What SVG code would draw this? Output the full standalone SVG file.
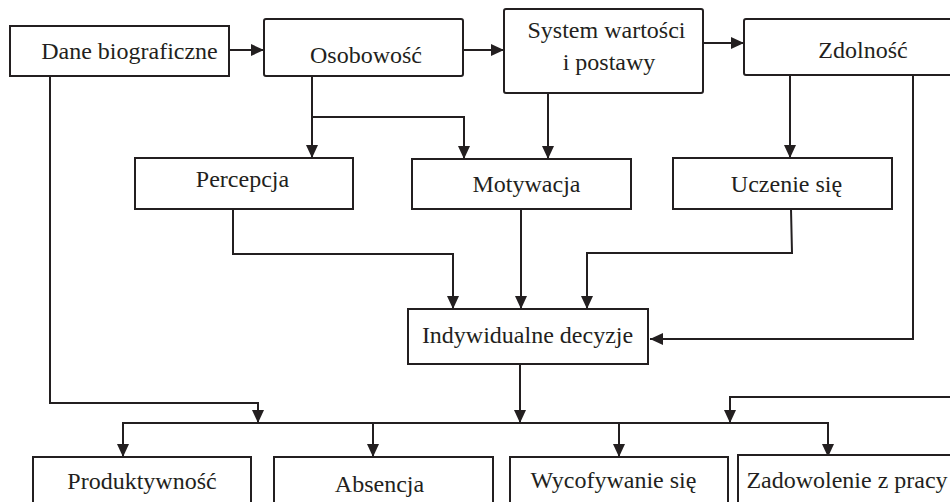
<svg xmlns="http://www.w3.org/2000/svg" width="950" height="502" viewBox="0 0 950 502">
<style>
.box{fill:#fff;stroke:#231f20;stroke-width:2}
.t{font-family:"Liberation Serif","Times New Roman",serif;font-size:24px;fill:#231f20;text-anchor:middle}
.c{fill:none;stroke:#231f20;stroke-width:2;marker-end:url(#ah)}
.l{fill:none;stroke:#231f20;stroke-width:2}
</style>
<defs>
<marker id="ah" viewBox="0 0 13 12" refX="13" refY="6" markerWidth="13" markerHeight="12" markerUnits="userSpaceOnUse" orient="auto">
<path d="M0,0 L13,6 L0,12 z" fill="#231f20"/>
</marker>
</defs>
<rect width="950" height="502" fill="#fff"/>
<g id="connectors">
<path class="c" d="M229,50 H264"/>
<path class="c" d="M463,50 H504"/>
<path class="c" d="M703,43 H744"/>
<path class="c" d="M312,76 V158"/>
<path class="c" d="M312,117 H464 V159"/>
<path class="c" d="M548,93 V159"/>
<path class="c" d="M790,75 V158"/>
<path class="c" d="M913,75 V339 H650"/>
<path class="c" d="M233,209 V254 H453 V309"/>
<path class="c" d="M521,209 V309"/>
<path class="c" d="M791,209 L792,253 H587 V309"/>
<path class="c" d="M520,364 V423"/>
<path class="c" d="M50,76 V403 H258 V423"/>
<path class="c" d="M373,423 H123 V457"/>
<path class="c" d="M373,423 H828 V457"/>
<path class="c" d="M373,423 V457"/>
<path class="c" d="M619,423 V457"/>
<path class="c" d="M952,397 H730 V423"/>
</g>
<g id="dane"><rect class="box" x="10" y="26" width="219" height="50"/><text class="t" x="129.5" y="59">Dane biograficzne</text></g>
<g id="osobowosc"><rect class="box" x="264" y="19" width="199" height="57" rx="2"/><text class="t" x="366" y="63">Osobowość</text></g>
<g id="system"><rect class="box" x="504" y="9" width="199" height="84" rx="2"/><text class="t" x="606.5" y="38">System wartości</text><text class="t" x="609" y="70">i postawy</text></g>
<g id="zdolnosc"><rect class="box" x="744" y="19" width="215" height="56" rx="2"/><text class="t" x="863" y="58">Zdolność</text></g>
<g id="percepcja"><rect class="box" x="135" y="158" width="218" height="51"/><text class="t" x="242.5" y="187">Percepcja</text></g>
<g id="motywacja"><rect class="box" x="412" y="159" width="219" height="50"/><text class="t" x="526.5" y="192">Motywacja</text></g>
<g id="uczenie"><rect class="box" x="673" y="158" width="219" height="51"/><text class="t" x="786.5" y="192">Uczenie się</text></g>
<g id="decyzje"><rect class="box" x="408" y="309" width="240" height="55"/><text class="t" x="527.5" y="343">Indywidualne decyzje</text></g>
<g id="produktywnosc"><rect class="box" x="33" y="457" width="218" height="60"/><text class="t" x="142" y="489">Produktywność</text></g>
<g id="absencja"><rect class="box" x="274" y="457" width="219" height="60"/><text class="t" x="379.5" y="492">Absencja</text></g>
<g id="wycofywanie"><rect class="box" x="510" y="457" width="218" height="60"/><text class="t" x="613.5" y="488">Wycofywanie się</text></g>
<g id="zadowolenie"><rect class="box" x="738" y="455" width="225" height="60"/><text class="t" x="847" y="488">Zadowolenie z pracy</text></g>
</svg>
